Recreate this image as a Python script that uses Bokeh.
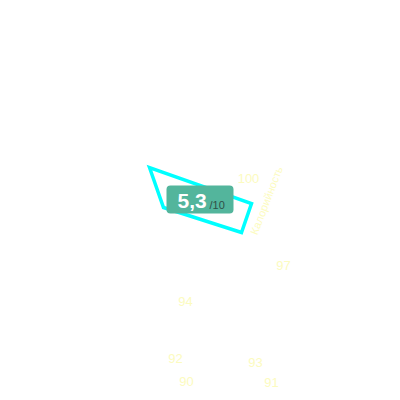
from bokeh.plotting import figure
from bokeh.models import Range1d, BoxAnnotation, Label, ColumnDataSource
from bokeh.core.properties import value
from bokeh.embed import file_html
from bokeh.resources import INLINE

# data
shape_x = [149, 163, 241, 251]
shape_y = [167, 207, 232, 203]
num_labels = ["100", "97", "94", "92", "93", "90", "91"]
num_x = [248, 283, 185, 175, 255, 186, 271]
num_y = [178, 265, 301, 358, 362, 381, 382]
axis_title = "Калорийность"
score = 5.3
score_max = 10

p = figure(width=400, height=400, output_backend="svg", toolbar_location=None,
           x_range=Range1d(0, 400), y_range=Range1d(400, 0), min_border=0)
p.axis.visible = False
p.grid.visible = False
p.outline_line_color = None
p.background_fill_color = "white"
p.border_fill_color = "white"

p.patch(shape_x, shape_y, fill_alpha=0, line_color="#00ffff", line_width=3.5,
        line_join="miter")

src = ColumnDataSource(dict(x=num_x, y=num_y, t=num_labels))
p.text("x", "y", text="t", source=src, text_color="#fcfbc0",
       text_font=value("Liberation Sans"), text_font_size="13px",
       text_align="center", text_baseline="middle")

p.text([266], [200], text=[axis_title], angle=69, angle_units="deg",
       text_color="#fcfbc0", text_font=value("Liberation Sans"),
       text_font_size="11px", text_align="center", text_baseline="middle")

box = BoxAnnotation(left=166, right=233, top=185, bottom=213,
                    fill_color="#53b59c", fill_alpha=1, line_alpha=0,
                    border_radius=4)
p.add_layout(box)

score_txt = f"{score:.1f}".replace(".", ",")
p.add_layout(Label(x=177, y=200, text=score_txt, text_color="white",
                   text_font="Liberation Sans", text_font_style="bold",
                   text_font_size="21px", text_baseline="middle"))
p.add_layout(Label(x=209, y=204, text=f"/{score_max}", text_color="#2f4f47",
                   text_font="Liberation Sans", text_font_size="11px",
                   text_baseline="middle"))

open("out.html", "w").write(file_html(p, INLINE))
